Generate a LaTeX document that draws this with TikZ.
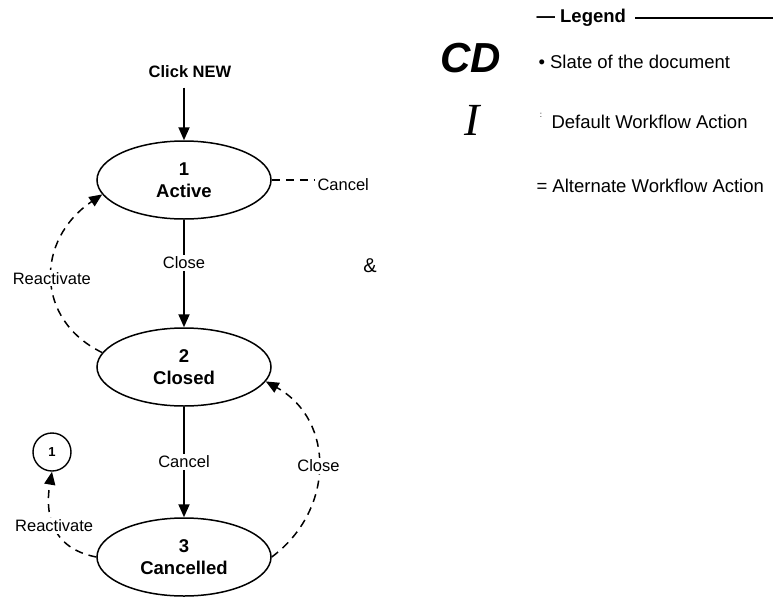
\documentclass[tikz,border=0pt]{standalone}
\usepackage{fontspec}
\setmainfont{Liberation Sans}
\newfontfamily\serifface{Liberation Serif}
\usetikzlibrary{arrows.meta,shapes.geometric}
\begin{document}
\begin{tikzpicture}[x=1pt,y=-1pt,
  state/.style={ellipse,draw,line width=1.5pt,minimum width=174pt,minimum height=78pt,
    inner sep=0pt,align=center,font=\fontsize{18.5}{22}\selectfont\bfseries},
  tip/.style={-{Triangle[length=13pt,width=11pt]}},
  flow/.style={tip,line width=1.8pt},
  alt/.style={line width=1.5pt,dash pattern=on 8pt off 6pt},
  lbl/.style={font=\fontsize{16.5}{18}\selectfont,fill=white,inner sep=2pt},
  key/.style={anchor=west,font=\fontsize{18.5}{20}\selectfont},
]
\useasboundingbox (0,0) rectangle (773,597);

% states of the document
\node[font=\fontsize{16.5}{18}\selectfont\bfseries] (new) at (190,72) {Click NEW};
\node[state] (s1) at (184,180) {1\\Active};
\node[state] (s2) at (184,367) {2\\Closed};
\node[state] (s3) at (184,557) {3\\Cancelled};
\node[circle,draw,line width=1.4pt,minimum size=38pt,inner sep=0pt,
      font=\fontsize{13}{13}\selectfont\bfseries] (c1) at (52,452) {1};

% default workflow
\draw[flow,shorten <=6pt] (new.south -| s1.north) -- (s1.north);
\draw[flow] (s1) -- node[lbl,pos=0.4] {Close} (s2);
\draw[flow] (s2) -- node[lbl] {Cancel} (s3);

% alternate workflow
\node[anchor=west,font=\fontsize{16.5}{18}\selectfont] (cl) at (314,185) {Cancel};
\draw[alt] (s1.east) -- (s1.east -| cl.west);
\draw[alt,tip] (s2.170) .. controls (35,320) and (35,240) .. node[lbl] {Reactivate} (s1.190);
\draw[alt,tip] (s3.east) .. controls (335,510) and (335,420) .. node[lbl] {Close} (s2.350);
\draw[alt,tip] (s3.west) .. controls (50,548) and (45,512) .. node[lbl] {Reactivate} (c1.south);

\node[font=\fontsize{20}{20}\selectfont] (amp) at (370,266) {\&};

% legend
\node[anchor=west,font=\fontsize{18.5}{18}\selectfont\bfseries] (leg) at (533,18) {— Legend};
\coordinate (legend end) at (773,0);
\draw[line width=1.6pt,shorten <=6pt] (leg.east) -- (leg.east -| legend end);
\node[font=\fontsize{42}{42}\selectfont\bfseries\itshape] (cd) at (471,58) {CD};
\node[font=\serifface\itshape\fontsize{46}{46}\selectfont] (ibar) at (472,120) {I};
\node[key] (k1) at (535,62) {• Slate of the document};
\node[font=\fontsize{8}{8}\selectfont] (mark) at (541,115) {:};
\node[key] (k2) at (548,122) {Default Workflow Action};
\node[key] (k3) at (533,186) {= Alternate Workflow Action};
\end{tikzpicture}
\end{document}
